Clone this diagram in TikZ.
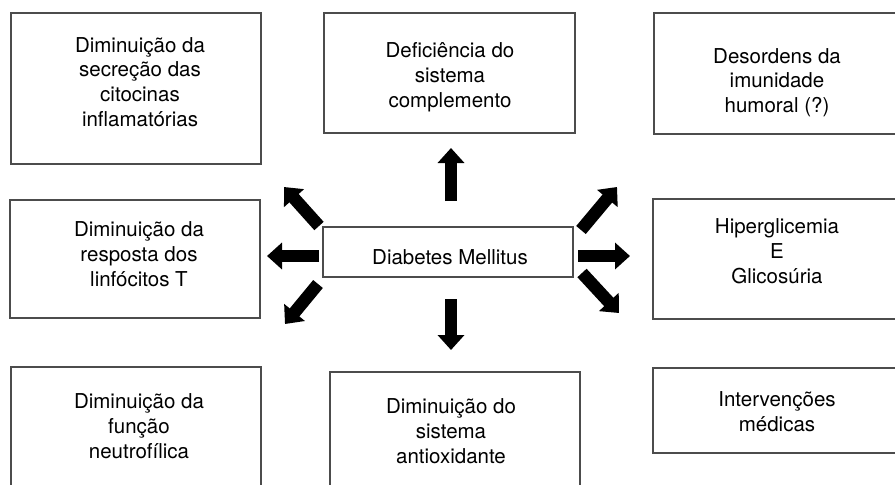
\documentclass[tikz,border=0pt]{standalone}
\usepackage{fontspec}
\setmainfont{TeX Gyre Heros}
\usetikzlibrary{arrows.meta}
\tikzset{
  caixa/.style={draw=black!70,line width=1.2pt,inner sep=0pt,outer sep=0pt},
  texto/.style={align=center,inner sep=0pt,font=\fontsize{20.5}{24.8}\selectfont},
  seta/.style={line width=12.5pt,-{Triangle[width=26pt,length=15pt]}}
}
\begin{document}
\begin{tikzpicture}[x=1pt,y=-1pt]
    \useasboundingbox (0,0) rectangle (895,485);
    \clip (0,0) rectangle (895,485);

    % caixas
    \begin{scope}[every node/.style={caixa}]
        \node[minimum width=250pt,minimum height=151pt] (secrecao) at (136,88.5) {};
        \node[minimum width=251pt,minimum height=120pt] (complemento) at (449.5,73) {};
        \node[minimum width=248pt,minimum height=121pt] (humoral) at (778,73.5) {};
        \node[minimum width=250pt,minimum height=118pt] (linfocitos) at (135,259) {};
        \node[minimum width=250pt,minimum height=50pt] (diabetes) at (448,252) {};
        \node[minimum width=248pt,minimum height=120pt] (glicemia) at (777,259) {};
        \node[minimum width=250pt,minimum height=140pt] (neutrofilos) at (136,437) {};
        \node[minimum width=250pt,minimum height=140pt] (antioxidante) at (455,442) {};
        \node[minimum width=248pt,minimum height=85pt] (intervencoes) at (777,410.5) {};
    \end{scope}

    % textos
    \begin{scope}[every node/.style={texto}]
        \node (secrecaoT) at (140,82) {Diminuição da\\secreção das\\citocinas\\inflamatórias};
        \node (complementoT) at (450,77) {Deficiência do\\sistema\\complemento};
        \node (humoralT) at (777,82.5) {Desordens da\\imunidade\\humoral (?)};
        \node (linfocitosT) at (139,254) {Diminuição da\\resposta dos\\linfócitos T};
        \node (diabetesT) at (450,257) {Diabetes Mellitus};
        \node (glicemiaT) at (777,251) {Hiperglicemia\\E\\Glicosúria};
        \node (neutrofilosT) at (139,426) {Diminuição da\\função\\neutrofílica};
        \node (antioxidanteT) at (451,431) {Diminuição do\\sistema\\antioxidante};
        \node (intervencoesT) at (777,411.5) {Intervenções\\médicas};
    \end{scope}

    % setas
    \coordinate (caudaN) at (451,201);   \coordinate (pontaN) at (451,148);
    \coordinate (caudaS) at (451,299);   \coordinate (pontaS) at (451,350);
    \coordinate (caudaW) at (319,256);   \coordinate (pontaW) at (267,256);
    \coordinate (caudaE) at (578,256);   \coordinate (pontaE) at (630,256);
    \coordinate (caudaNW) at (319,226);  \coordinate (pontaNW) at (284,187);
    \coordinate (caudaSW) at (318,284);  \coordinate (pontaSW) at (285,324);
    \coordinate (caudaNE) at (581,230);  \coordinate (pontaNE) at (617,187);
    \coordinate (caudaSE) at (582,273);  \coordinate (pontaSE) at (619,313);
    \begin{scope}[every path/.style={seta}]
        \foreach \d in {N,S,W,E,NW,SW,NE,SE}
            \path (cauda\d) edge (ponta\d);
    \end{scope}
\end{tikzpicture}
\end{document}
